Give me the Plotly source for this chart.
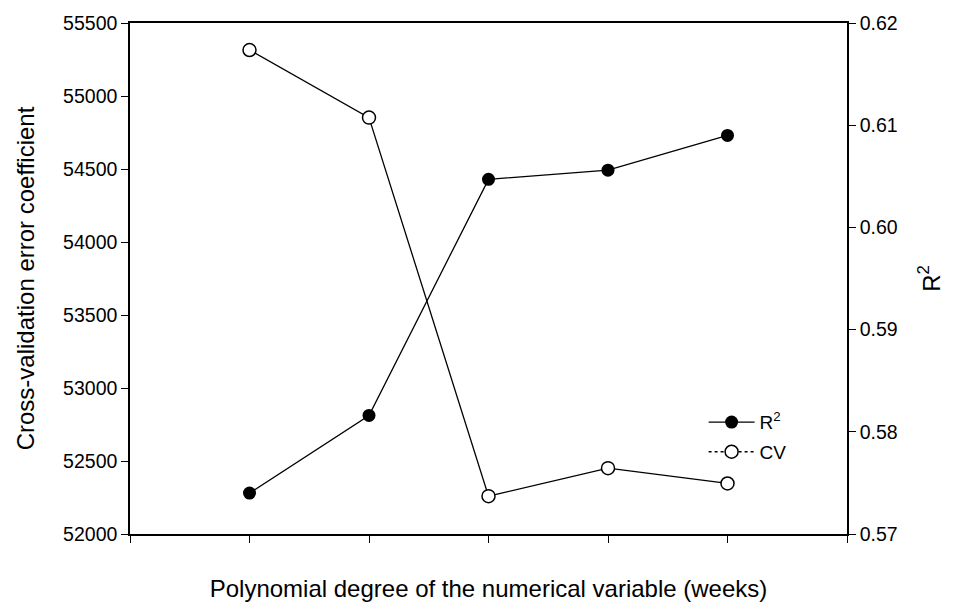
import plotly.graph_objects as go

degree = [1, 2, 3, 4, 5]
cv_values = [55315, 54852, 52259, 52451, 52346]
r2_values = [0.5740, 0.5816, 0.6047, 0.6056, 0.6090]
x_ticks = [0, 1, 2, 3, 4, 5, 6]
left_ticks = [52000, 52500, 53000, 53500, 54000, 54500, 55000, 55500]
right_ticks = [0.57, 0.58, 0.59, 0.60, 0.61, 0.62]

FONT = "Arial, Liberation Sans, sans-serif"
TICK_SIZE = 19.5
TITLE_SIZE = 24

fig = go.Figure()

fig.add_trace(go.Scatter(
    x=degree, y=cv_values, mode="lines+markers", name="CV", showlegend=False,
    line=dict(color="black", width=1.3),
    marker=dict(symbol="circle", size=13, color="white", line=dict(color="black", width=1.5)),
    yaxis="y"))

fig.add_trace(go.Scatter(
    x=degree, y=r2_values, mode="lines+markers", name="R<sup>2</sup>",
    line=dict(color="black", width=1.3),
    marker=dict(symbol="circle", size=13, color="black"),
    yaxis="y2", legendgroup="r2"))

fig.add_trace(go.Scatter(
    x=[None], y=[None], mode="lines+markers", name="CV",
    line=dict(color="black", width=1.3, dash="dot"),
    marker=dict(symbol="circle", size=13, color="white", line=dict(color="black", width=1.5)),
    yaxis="y", legendgroup="cv"))

axis_common = dict(showline=True, linecolor="black", linewidth=1.5, ticks="outside",
                   ticklen=7, tickwidth=1.2, tickcolor="black", showgrid=False, zeroline=False,
                   tickfont=dict(family=FONT, size=TICK_SIZE, color="black"))

fig.update_layout(
    width=953, height=608,
    margin=dict(l=130, r=106, t=22, b=70),
    plot_bgcolor="white", paper_bgcolor="white",
    font=dict(family=FONT, color="black"),
    xaxis=dict(range=[0, 6], tickvals=x_ticks, showticklabels=False, mirror=True,
               title=dict(text="Polynomial degree of the numerical variable (weeks)",
                          font=dict(family=FONT, size=TITLE_SIZE), standoff=38),
               **axis_common),
    yaxis=dict(range=[52000, 55500], tickvals=left_ticks, tickformat="d",
               title=dict(text="Cross-validation error coefficient",
                          font=dict(family=FONT, size=TITLE_SIZE), standoff=22),
               **axis_common),
    yaxis2=dict(range=[0.57, 0.62], tickvals=right_ticks, tickformat=".2f",
                overlaying="y", side="right",
                title=dict(text="R<sup>2</sup>", font=dict(family=FONT, size=TITLE_SIZE), standoff=26),
                **axis_common),
    legend=dict(x=0.80, y=0.256, xanchor="left", yanchor="top",
                bgcolor="rgba(0,0,0,0)", font=dict(family=FONT, size=19),
                tracegroupgap=2, itemwidth=46),
    showlegend=True,
)

fig.write_html("out.html")
